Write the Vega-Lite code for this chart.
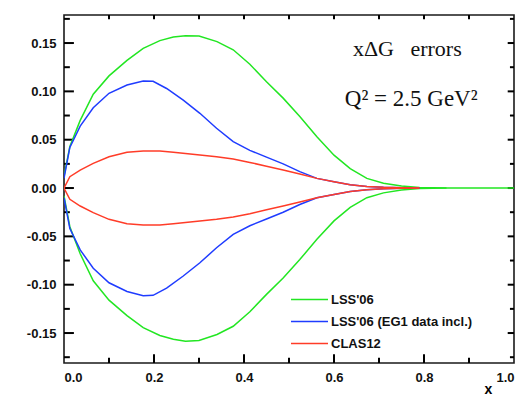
{
  "$schema": "https://vega.github.io/schema/vega-lite/v6.json",
  "width": 450,
  "height": 348,
  "autosize": {"type": "none"},
  "padding": {"left": 64, "top": 15, "right": 1, "bottom": 34},
  "background": "white",
  "config": {
    "view": {"stroke": "#1a1a1a", "strokeWidth": 1.6},
    "axis": {"grid": false, "labelFont": "Liberation Sans", "labelFontWeight": "bold", "labelFontSize": 13, "labelColor": "#111"},
    "legend": {"labelFont": "Liberation Sans", "labelFontWeight": "bold", "labelFontSize": 13, "labelColor": "#111"}
  },
  "datasets": {
    "xmajor": [{"t": 0.2}, {"t": 0.4}, {"t": 0.6}, {"t": 0.8}],
    "xminor": [{"t": 0.1}, {"t": 0.3}, {"t": 0.5}, {"t": 0.7}, {"t": 0.9}],
    "xall": [{"t": 0.1}, {"t": 0.2}, {"t": 0.3}, {"t": 0.4}, {"t": 0.5}, {"t": 0.6}, {"t": 0.7}, {"t": 0.8}, {"t": 0.9}],
    "ymajor": [{"t": -0.15}, {"t": -0.1}, {"t": -0.05}, {"t": 0.0}, {"t": 0.05}, {"t": 0.1}, {"t": 0.15}],
    "yminor": [{"t": -0.175}, {"t": -0.125}, {"t": -0.075}, {"t": -0.025}, {"t": 0.025}, {"t": 0.075}, {"t": 0.125}, {"t": 0.175}],
    "curves": [
      {"x": 0.0, "v": 0.012, "series": "LSS'06", "side": "up"},
      {"x": 0.013, "v": 0.043, "series": "LSS'06", "side": "up"},
      {"x": 0.036, "v": 0.070, "series": "LSS'06", "side": "up"},
      {"x": 0.065, "v": 0.097, "series": "LSS'06", "side": "up"},
      {"x": 0.10, "v": 0.116, "series": "LSS'06", "side": "up"},
      {"x": 0.14, "v": 0.132, "series": "LSS'06", "side": "up"},
      {"x": 0.176, "v": 0.1445, "series": "LSS'06", "side": "up"},
      {"x": 0.213, "v": 0.1525, "series": "LSS'06", "side": "up"},
      {"x": 0.243, "v": 0.1562, "series": "LSS'06", "side": "up"},
      {"x": 0.27, "v": 0.1575, "series": "LSS'06", "side": "up"},
      {"x": 0.30, "v": 0.1572, "series": "LSS'06", "side": "up"},
      {"x": 0.34, "v": 0.1515, "series": "LSS'06", "side": "up"},
      {"x": 0.376, "v": 0.143, "series": "LSS'06", "side": "up"},
      {"x": 0.413, "v": 0.128, "series": "LSS'06", "side": "up"},
      {"x": 0.45, "v": 0.110, "series": "LSS'06", "side": "up"},
      {"x": 0.487, "v": 0.093, "series": "LSS'06", "side": "up"},
      {"x": 0.524, "v": 0.074, "series": "LSS'06", "side": "up"},
      {"x": 0.562, "v": 0.053, "series": "LSS'06", "side": "up"},
      {"x": 0.60, "v": 0.034, "series": "LSS'06", "side": "up"},
      {"x": 0.636, "v": 0.020, "series": "LSS'06", "side": "up"},
      {"x": 0.673, "v": 0.010, "series": "LSS'06", "side": "up"},
      {"x": 0.71, "v": 0.005, "series": "LSS'06", "side": "up"},
      {"x": 0.75, "v": 0.002, "series": "LSS'06", "side": "up"},
      {"x": 0.79, "v": 0.0005, "series": "LSS'06", "side": "up"},
      {"x": 0.85, "v": 0.0, "series": "LSS'06", "side": "up"},
      {"x": 1.0, "v": 0.0, "series": "LSS'06", "side": "up"},
      {"x": 0.0, "v": -0.008, "series": "LSS'06", "side": "down"},
      {"x": 0.013, "v": -0.040, "series": "LSS'06", "side": "down"},
      {"x": 0.036, "v": -0.068, "series": "LSS'06", "side": "down"},
      {"x": 0.065, "v": -0.096, "series": "LSS'06", "side": "down"},
      {"x": 0.10, "v": -0.116, "series": "LSS'06", "side": "down"},
      {"x": 0.14, "v": -0.132, "series": "LSS'06", "side": "down"},
      {"x": 0.176, "v": -0.1445, "series": "LSS'06", "side": "down"},
      {"x": 0.213, "v": -0.1525, "series": "LSS'06", "side": "down"},
      {"x": 0.243, "v": -0.1565, "series": "LSS'06", "side": "down"},
      {"x": 0.27, "v": -0.1585, "series": "LSS'06", "side": "down"},
      {"x": 0.30, "v": -0.1578, "series": "LSS'06", "side": "down"},
      {"x": 0.34, "v": -0.1515, "series": "LSS'06", "side": "down"},
      {"x": 0.376, "v": -0.143, "series": "LSS'06", "side": "down"},
      {"x": 0.413, "v": -0.128, "series": "LSS'06", "side": "down"},
      {"x": 0.45, "v": -0.110, "series": "LSS'06", "side": "down"},
      {"x": 0.487, "v": -0.093, "series": "LSS'06", "side": "down"},
      {"x": 0.524, "v": -0.074, "series": "LSS'06", "side": "down"},
      {"x": 0.562, "v": -0.053, "series": "LSS'06", "side": "down"},
      {"x": 0.60, "v": -0.034, "series": "LSS'06", "side": "down"},
      {"x": 0.636, "v": -0.020, "series": "LSS'06", "side": "down"},
      {"x": 0.673, "v": -0.010, "series": "LSS'06", "side": "down"},
      {"x": 0.71, "v": -0.005, "series": "LSS'06", "side": "down"},
      {"x": 0.75, "v": -0.002, "series": "LSS'06", "side": "down"},
      {"x": 0.79, "v": -0.0005, "series": "LSS'06", "side": "down"},
      {"x": 0.85, "v": 0.0, "series": "LSS'06", "side": "down"},
      {"x": 0.0, "v": 0.010, "series": "LSS'06 (EG1 data incl.)", "side": "up"},
      {"x": 0.013, "v": 0.042, "series": "LSS'06 (EG1 data incl.)", "side": "up"},
      {"x": 0.036, "v": 0.064, "series": "LSS'06 (EG1 data incl.)", "side": "up"},
      {"x": 0.065, "v": 0.083, "series": "LSS'06 (EG1 data incl.)", "side": "up"},
      {"x": 0.10, "v": 0.098, "series": "LSS'06 (EG1 data incl.)", "side": "up"},
      {"x": 0.14, "v": 0.1066, "series": "LSS'06 (EG1 data incl.)", "side": "up"},
      {"x": 0.176, "v": 0.1108, "series": "LSS'06 (EG1 data incl.)", "side": "up"},
      {"x": 0.198, "v": 0.1105, "series": "LSS'06 (EG1 data incl.)", "side": "up"},
      {"x": 0.228, "v": 0.103, "series": "LSS'06 (EG1 data incl.)", "side": "up"},
      {"x": 0.265, "v": 0.091, "series": "LSS'06 (EG1 data incl.)", "side": "up"},
      {"x": 0.302, "v": 0.0773, "series": "LSS'06 (EG1 data incl.)", "side": "up"},
      {"x": 0.339, "v": 0.0618, "series": "LSS'06 (EG1 data incl.)", "side": "up"},
      {"x": 0.376, "v": 0.048, "series": "LSS'06 (EG1 data incl.)", "side": "up"},
      {"x": 0.413, "v": 0.039, "series": "LSS'06 (EG1 data incl.)", "side": "up"},
      {"x": 0.45, "v": 0.032, "series": "LSS'06 (EG1 data incl.)", "side": "up"},
      {"x": 0.487, "v": 0.025, "series": "LSS'06 (EG1 data incl.)", "side": "up"},
      {"x": 0.524, "v": 0.017, "series": "LSS'06 (EG1 data incl.)", "side": "up"},
      {"x": 0.562, "v": 0.010, "series": "LSS'06 (EG1 data incl.)", "side": "up"},
      {"x": 0.60, "v": 0.0066, "series": "LSS'06 (EG1 data incl.)", "side": "up"},
      {"x": 0.636, "v": 0.0035, "series": "LSS'06 (EG1 data incl.)", "side": "up"},
      {"x": 0.673, "v": 0.0017, "series": "LSS'06 (EG1 data incl.)", "side": "up"},
      {"x": 0.71, "v": 0.0007, "series": "LSS'06 (EG1 data incl.)", "side": "up"},
      {"x": 0.75, "v": 0.0002, "series": "LSS'06 (EG1 data incl.)", "side": "up"},
      {"x": 0.79, "v": 0.0, "series": "LSS'06 (EG1 data incl.)", "side": "up"},
      {"x": 0.0, "v": -0.010, "series": "LSS'06 (EG1 data incl.)", "side": "down"},
      {"x": 0.013, "v": -0.042, "series": "LSS'06 (EG1 data incl.)", "side": "down"},
      {"x": 0.036, "v": -0.064, "series": "LSS'06 (EG1 data incl.)", "side": "down"},
      {"x": 0.065, "v": -0.083, "series": "LSS'06 (EG1 data incl.)", "side": "down"},
      {"x": 0.10, "v": -0.098, "series": "LSS'06 (EG1 data incl.)", "side": "down"},
      {"x": 0.14, "v": -0.107, "series": "LSS'06 (EG1 data incl.)", "side": "down"},
      {"x": 0.176, "v": -0.1115, "series": "LSS'06 (EG1 data incl.)", "side": "down"},
      {"x": 0.198, "v": -0.111, "series": "LSS'06 (EG1 data incl.)", "side": "down"},
      {"x": 0.228, "v": -0.1035, "series": "LSS'06 (EG1 data incl.)", "side": "down"},
      {"x": 0.265, "v": -0.091, "series": "LSS'06 (EG1 data incl.)", "side": "down"},
      {"x": 0.302, "v": -0.0773, "series": "LSS'06 (EG1 data incl.)", "side": "down"},
      {"x": 0.339, "v": -0.0618, "series": "LSS'06 (EG1 data incl.)", "side": "down"},
      {"x": 0.376, "v": -0.048, "series": "LSS'06 (EG1 data incl.)", "side": "down"},
      {"x": 0.413, "v": -0.039, "series": "LSS'06 (EG1 data incl.)", "side": "down"},
      {"x": 0.45, "v": -0.032, "series": "LSS'06 (EG1 data incl.)", "side": "down"},
      {"x": 0.487, "v": -0.025, "series": "LSS'06 (EG1 data incl.)", "side": "down"},
      {"x": 0.524, "v": -0.017, "series": "LSS'06 (EG1 data incl.)", "side": "down"},
      {"x": 0.562, "v": -0.010, "series": "LSS'06 (EG1 data incl.)", "side": "down"},
      {"x": 0.60, "v": -0.0066, "series": "LSS'06 (EG1 data incl.)", "side": "down"},
      {"x": 0.636, "v": -0.0035, "series": "LSS'06 (EG1 data incl.)", "side": "down"},
      {"x": 0.673, "v": -0.0017, "series": "LSS'06 (EG1 data incl.)", "side": "down"},
      {"x": 0.71, "v": -0.0007, "series": "LSS'06 (EG1 data incl.)", "side": "down"},
      {"x": 0.75, "v": -0.0002, "series": "LSS'06 (EG1 data incl.)", "side": "down"},
      {"x": 0.79, "v": 0.0, "series": "LSS'06 (EG1 data incl.)", "side": "down"},
      {"x": 0.0, "v": 0.0, "series": "CLAS12", "side": "up"},
      {"x": 0.013, "v": 0.0117, "series": "CLAS12", "side": "up"},
      {"x": 0.036, "v": 0.0186, "series": "CLAS12", "side": "up"},
      {"x": 0.065, "v": 0.0255, "series": "CLAS12", "side": "up"},
      {"x": 0.10, "v": 0.0324, "series": "CLAS12", "side": "up"},
      {"x": 0.14, "v": 0.037, "series": "CLAS12", "side": "up"},
      {"x": 0.176, "v": 0.0383, "series": "CLAS12", "side": "up"},
      {"x": 0.213, "v": 0.0383, "series": "CLAS12", "side": "up"},
      {"x": 0.243, "v": 0.037, "series": "CLAS12", "side": "up"},
      {"x": 0.302, "v": 0.0342, "series": "CLAS12", "side": "up"},
      {"x": 0.339, "v": 0.0324, "series": "CLAS12", "side": "up"},
      {"x": 0.376, "v": 0.030, "series": "CLAS12", "side": "up"},
      {"x": 0.413, "v": 0.0265, "series": "CLAS12", "side": "up"},
      {"x": 0.45, "v": 0.0225, "series": "CLAS12", "side": "up"},
      {"x": 0.487, "v": 0.0186, "series": "CLAS12", "side": "up"},
      {"x": 0.524, "v": 0.0145, "series": "CLAS12", "side": "up"},
      {"x": 0.562, "v": 0.010, "series": "CLAS12", "side": "up"},
      {"x": 0.60, "v": 0.0066, "series": "CLAS12", "side": "up"},
      {"x": 0.636, "v": 0.0035, "series": "CLAS12", "side": "up"},
      {"x": 0.673, "v": 0.0017, "series": "CLAS12", "side": "up"},
      {"x": 0.71, "v": 0.0008, "series": "CLAS12", "side": "up"},
      {"x": 0.75, "v": 0.0003, "series": "CLAS12", "side": "up"},
      {"x": 0.79, "v": 0.0, "series": "CLAS12", "side": "up"},
      {"x": 0.0, "v": 0.0, "series": "CLAS12", "side": "down"},
      {"x": 0.013, "v": -0.0117, "series": "CLAS12", "side": "down"},
      {"x": 0.036, "v": -0.0186, "series": "CLAS12", "side": "down"},
      {"x": 0.065, "v": -0.0255, "series": "CLAS12", "side": "down"},
      {"x": 0.10, "v": -0.0324, "series": "CLAS12", "side": "down"},
      {"x": 0.14, "v": -0.037, "series": "CLAS12", "side": "down"},
      {"x": 0.176, "v": -0.0383, "series": "CLAS12", "side": "down"},
      {"x": 0.213, "v": -0.0383, "series": "CLAS12", "side": "down"},
      {"x": 0.243, "v": -0.037, "series": "CLAS12", "side": "down"},
      {"x": 0.302, "v": -0.0342, "series": "CLAS12", "side": "down"},
      {"x": 0.339, "v": -0.0324, "series": "CLAS12", "side": "down"},
      {"x": 0.376, "v": -0.030, "series": "CLAS12", "side": "down"},
      {"x": 0.413, "v": -0.0265, "series": "CLAS12", "side": "down"},
      {"x": 0.45, "v": -0.0225, "series": "CLAS12", "side": "down"},
      {"x": 0.487, "v": -0.0186, "series": "CLAS12", "side": "down"},
      {"x": 0.524, "v": -0.0145, "series": "CLAS12", "side": "down"},
      {"x": 0.562, "v": -0.010, "series": "CLAS12", "side": "down"},
      {"x": 0.60, "v": -0.0066, "series": "CLAS12", "side": "down"},
      {"x": 0.636, "v": -0.0035, "series": "CLAS12", "side": "down"},
      {"x": 0.673, "v": -0.0017, "series": "CLAS12", "side": "down"},
      {"x": 0.71, "v": -0.0008, "series": "CLAS12", "side": "down"},
      {"x": 0.75, "v": -0.0003, "series": "CLAS12", "side": "down"},
      {"x": 0.79, "v": 0.0, "series": "CLAS12", "side": "down"}
    ],
    "title1": [{"x": 0.642, "v": 0.1366, "label": "xΔG\u00a0\u00a0\u00a0errors"}],
    "title2": [{"x": 0.624, "v": 0.0849, "label": "Q² = 2.5 GeV²"}]
  },
  "resolve": {"axis": {"x": "independent", "y": "independent"}},
  "layer": [
    {
      "mark": {"type": "rule", "color": "#111", "strokeWidth": 1.5},
      "encoding": {
        "x": {"datum": 0, "type": "quantitative", "scale": {"domain": [0, 1], "nice": false}, "axis": null},
        "x2": {"datum": 1},
        "y": {"datum": 0, "type": "quantitative", "scale": {"domain": [-0.181, 0.179], "nice": false, "zero": false}, "axis": null}
      }
    },
    {
      "data": {"name": "xmajor"},
      "mark": {"type": "rule", "color": "black", "strokeWidth": 2},
      "encoding": {
        "x": {"field": "t", "type": "quantitative", "axis": null},
        "y": {"datum": -0.181, "type": "quantitative", "axis": null},
        "y2": {"datum": -0.172}
      }
    },
    {
      "data": {"name": "xminor"},
      "mark": {"type": "rule", "color": "black", "strokeWidth": 2},
      "encoding": {
        "x": {"field": "t", "type": "quantitative", "axis": null},
        "y": {"datum": -0.181, "type": "quantitative", "axis": null},
        "y2": {"datum": -0.1755}
      }
    },
    {
      "data": {"name": "xall"},
      "mark": {"type": "rule", "color": "black", "strokeWidth": 2},
      "encoding": {
        "x": {"field": "t", "type": "quantitative", "axis": null},
        "y": {"datum": 0.179, "type": "quantitative", "axis": null},
        "y2": {"datum": 0.1745}
      }
    },
    {
      "data": {"name": "ymajor"},
      "mark": {"type": "rule", "color": "black", "strokeWidth": 2},
      "encoding": {
        "y": {"field": "t", "type": "quantitative", "axis": null},
        "x": {"datum": 0, "type": "quantitative", "axis": null},
        "x2": {"datum": 0.022}
      }
    },
    {
      "data": {"name": "yminor"},
      "mark": {"type": "rule", "color": "black", "strokeWidth": 2},
      "encoding": {
        "y": {"field": "t", "type": "quantitative", "axis": null},
        "x": {"datum": 0, "type": "quantitative", "axis": null},
        "x2": {"datum": 0.013}
      }
    },
    {
      "data": {"name": "ymajor"},
      "mark": {"type": "rule", "color": "black", "strokeWidth": 2},
      "encoding": {
        "y": {"field": "t", "type": "quantitative", "axis": null},
        "x": {"datum": 1, "type": "quantitative", "axis": null},
        "x2": {"datum": 0.986}
      }
    },
    {
      "data": {"name": "yminor"},
      "mark": {"type": "rule", "color": "black", "strokeWidth": 2},
      "encoding": {
        "y": {"field": "t", "type": "quantitative", "axis": null},
        "x": {"datum": 1, "type": "quantitative", "axis": null},
        "x2": {"datum": 0.991}
      }
    },
    {
      "data": {"name": "curves"},
      "mark": {"type": "line", "strokeWidth": 1.5, "clip": true},
      "encoding": {
        "x": {"field": "x", "type": "quantitative", "axis": {"orient": "bottom", "values": [0, 0.2, 0.4, 0.6, 0.8, 1], "format": ".1f", "ticks": false, "domain": false, "labelPadding": 8, "title": "x", "titleFont": "Liberation Sans", "titleFontWeight": "bold", "titleFontSize": 14, "titleX": 424, "titleY": 30, "titleAnchor": null, "titleAlign": "center", "titleBaseline": "alphabetic"}},
        "y": {"field": "v", "type": "quantitative", "axis": {"orient": "left", "values": [-0.15, -0.1, -0.05, 0, 0.05, 0.1, 0.15], "labelExpr": "replace(format(datum.value, '.2f'), '−', '-')", "ticks": false, "domain": false, "labelPadding": 8, "title": null}},
        "color": {"field": "series", "type": "nominal", "sort": ["LSS'06", "LSS'06 (EG1 data incl.)", "CLAS12"], "scale": {"domain": ["LSS'06", "LSS'06 (EG1 data incl.)", "CLAS12"], "range": ["#22e622", "#1f3cff", "#ff3c28"]}, "legend": {"title": null, "orient": "none", "legendX": 237, "legendY": 276, "symbolType": "M-2.5,0H2.5", "symbolSize": 219, "symbolStrokeWidth": 1.5, "symbolFillColor": "transparent", "labelOffset": 13, "rowPadding": 6}},
        "detail": {"field": "side", "type": "nominal"}
      }
    },
    {
      "data": {"name": "title1"},
      "mark": {"type": "text", "font": "Liberation Serif", "fontSize": 22, "align": "left", "baseline": "alphabetic", "color": "#111"},
      "encoding": {
        "x": {"field": "x", "type": "quantitative", "axis": null},
        "y": {"field": "v", "type": "quantitative", "axis": null},
        "text": {"field": "label"}
      }
    },
    {
      "data": {"name": "title2"},
      "mark": {"type": "text", "font": "Liberation Serif", "fontSize": 23, "align": "left", "baseline": "alphabetic", "color": "#111"},
      "encoding": {
        "x": {"field": "x", "type": "quantitative", "axis": null},
        "y": {"field": "v", "type": "quantitative", "axis": null},
        "text": {"field": "label"}
      }
    }
  ]
}
